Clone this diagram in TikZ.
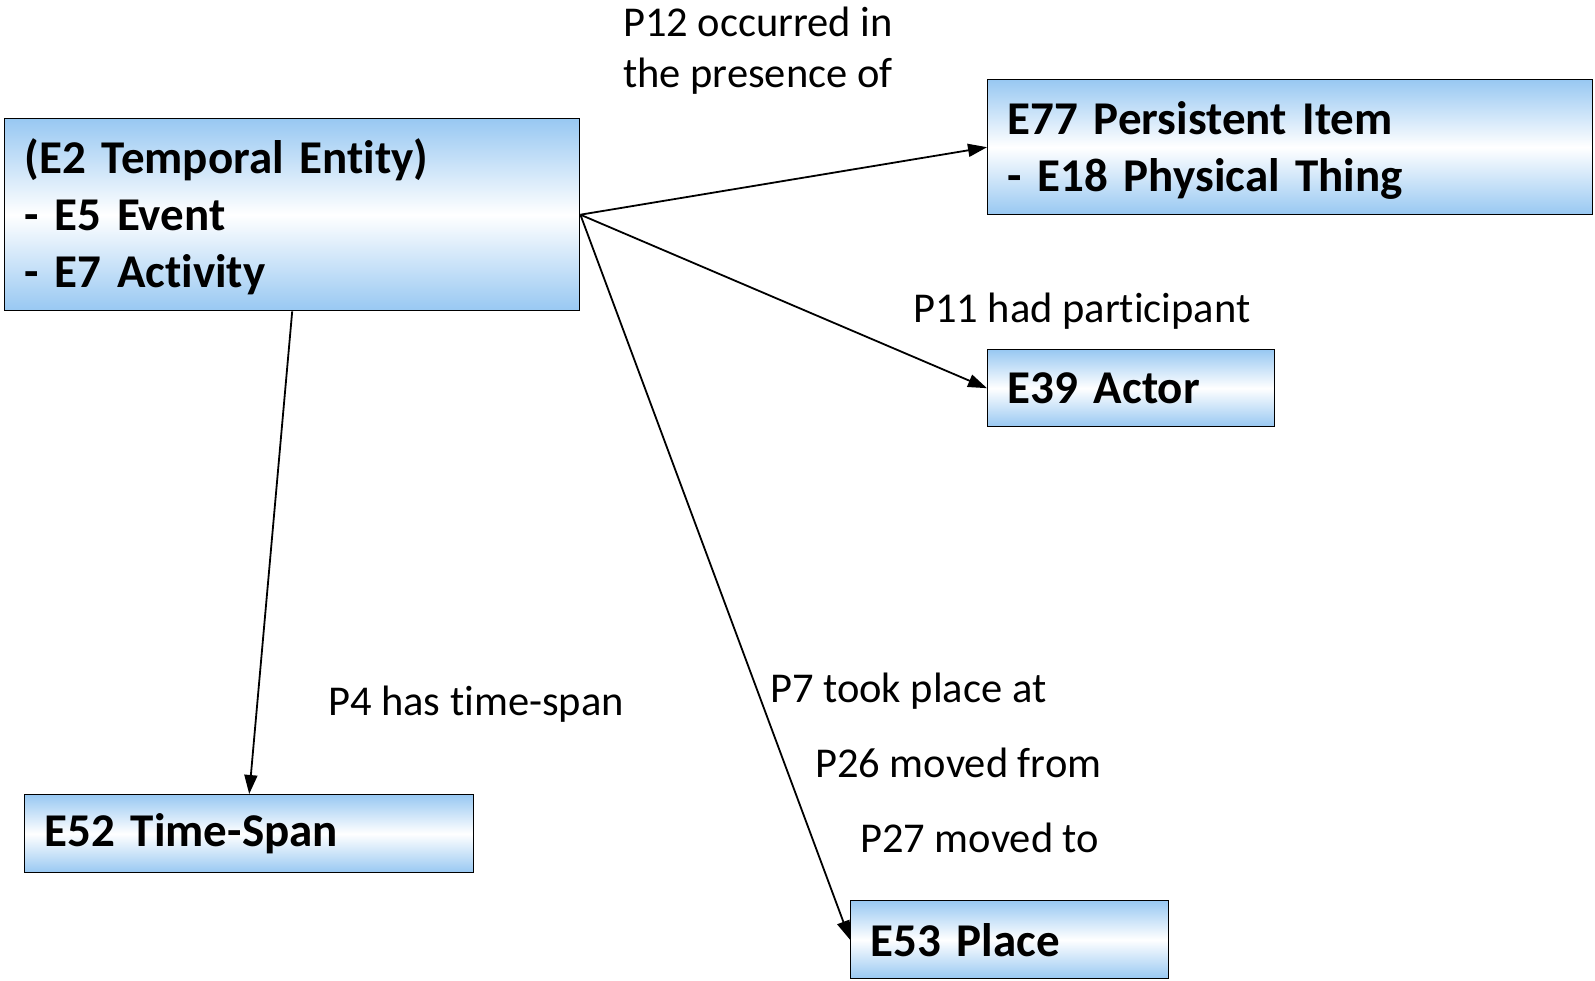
\documentclass[tikz,border=0pt]{standalone}
\usepackage{fontspec}
\setmainfont{Carlito}[RawFeature=-liga]
\usetikzlibrary{arrows.meta}
\definecolor{boxblue}{RGB}{152,200,242}
% bold box text with slightly tighter word spacing
\newcommand\entityfont{\bfseries\fontsize{47}{57}\selectfont
  \spaceskip=0.72\fontdimen2\font plus 0.1\fontdimen3\font\relax}
\tikzset{
  entity/.style={draw=black, line width=1.4pt, anchor=north west,
    top color=boxblue, bottom color=boxblue, middle color=white,
    inner xsep=20pt, inner ysep=0pt, align=left, font=\entityfont},
  prop/.style={anchor=base west, inner sep=0pt, align=left,
    font=\fontsize{42.5}{51}\selectfont},
  rel/.style={line width=1.8pt, -{Triangle[length=19pt,width=13pt]}},
}
\begin{document}
\begin{tikzpicture}[x=1pt,y=-1pt]
\useasboundingbox (0,0) rectangle (1595,980);

% entity boxes
\node[entity, text width=535pt, minimum height=192pt] (e2) at (4,118)
  {\strut(E2 Temporal Entity)\\- E5 Event\\- E7 Activity\rule[-9pt]{0pt}{1pt}};
\node[entity, text width=565pt, minimum height=135pt] (e77) at (987,79)
  {\strut E77 Persistent Item\\- E18 Physical Thing\rule[-9pt]{0pt}{1pt}};
\node[entity, text width=247pt, minimum height=77pt] (e39) at (987,349)
  {E39 Actor};
\node[entity, text width=409pt, minimum height=78pt] (e52) at (24,794)
  {E52 Time-Span};
\node[entity, text width=278pt, minimum height=78pt] (e53) at (850,900)
  {E53 Place};

% properties
\draw[rel] (e2.east) -- (e77.west);
\draw[rel] (e2.east) -- (e39.west);
\draw[rel] (e2.east) -- (e53.west);
\draw[rel] (e2.south) -- (e52.north);

% property labels
\node[prop] (p12) at (623,87) {P12 occurred in\\the presence of};
\node[prop] (p11) at (913,322) {P11 had participant};
\node[prop] (p4) at (328,715) {P4 has time-span};
\node[prop] (p7) at (770,702) {P7 took place at};
\node[prop] (p26) at (815,777) {P26 moved from};
\node[prop] (p27) at (860,852) {P27 moved to};
\end{tikzpicture}
\end{document}
